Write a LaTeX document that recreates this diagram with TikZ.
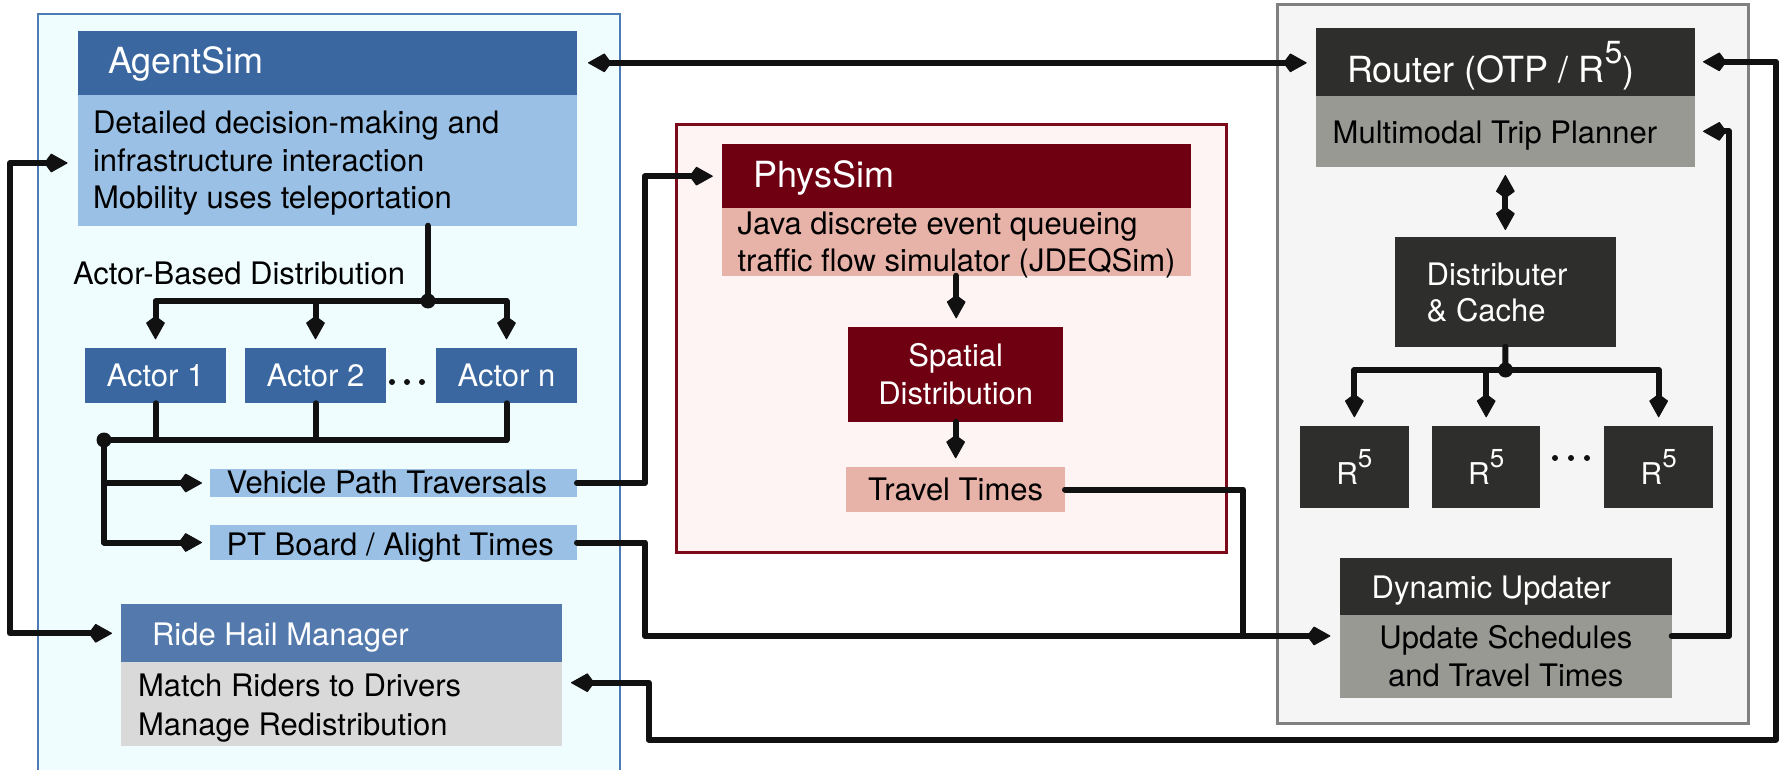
\documentclass[tikz,border=0pt]{standalone}
\usepackage{fontspec}
\setmainfont{TeX Gyre Heros}
\usetikzlibrary{arrows.meta}
\newcommand{\fBody}{\fontsize{31}{37.7}\selectfont}
\newcommand{\fHead}{\fontsize{36}{43}\selectfont}
\newcommand{\fRfive}{\fontsize{30}{36}\selectfont}
\newcommand{\rsupA}[1]{\raisebox{19pt}{\fontsize{32}{32}\selectfont #1}}
\newcommand{\rsupB}[1]{\raisebox{17pt}{\fontsize{26}{26}\selectfont #1}}
\definecolor{outerblue}{HTML}{EFFDFF}
\definecolor{outerblueline}{HTML}{4E7BB3}
\definecolor{agenthead}{HTML}{3A67A0}
\definecolor{agentbody}{HTML}{9AC1E5}
\definecolor{ridehead}{HTML}{547AAD}
\definecolor{ridebody}{HTML}{D9D9D9}
\definecolor{physouter}{HTML}{FFF4F4}
\definecolor{physline}{HTML}{7D0A1B}
\definecolor{physhead}{HTML}{6E0011}
\definecolor{physbody}{HTML}{E7B2A8}
\definecolor{greyouter}{HTML}{F5F5F5}
\definecolor{greyline}{HTML}{808080}
\definecolor{darkbox}{HTML}{2E2E2C}
\definecolor{greybody}{HTML}{999994}
\definecolor{lineblack}{HTML}{111111}
\begin{document}
\begin{tikzpicture}[x=1pt,y=-1pt,
  >={Kite[length=24pt,width=19pt,inset=7pt,line width=1pt,round]},
  blk/.style={anchor=north west, inner sep=0pt, outer sep=0pt},
  txt/.style={inner sep=0pt, outer sep=0pt, anchor=base west, font=\fBody, text=black},
  wtxt/.style={txt, text=white},
  conn/.style={draw=lineblack, line width=6pt, line join=round, line cap=round},
  jdot/.style={fill=lineblack}]
\useasboundingbox (0,0) rectangle (1781,770);
\clip (0,0) rectangle (1781,770);
\fill[white] (0,0) rectangle (1781,770);

% containers
\node[blk, draw=outerblueline, fill=outerblue, line width=2.5pt, minimum width=582pt, minimum height=800pt] (agentOuter) at (38,14) {};
\node[blk, draw=physline, fill=physouter, line width=2.5pt, minimum width=550pt, minimum height=428pt] (physOuter) at (676.4,124.5) {};
\node[blk, draw=greyline, fill=greyouter, line width=3pt, minimum width=471.2pt, minimum height=718.3pt] (routerOuter) at (1277.3,5) {};

% AgentSim side
\node[blk, fill=agenthead, minimum width=499.4pt, minimum height=64.3pt] (agentH) at (77.6,30.7) {};
\node[blk, fill=agentbody, minimum width=499.4pt, minimum height=130.7pt] (agentB) at (77.6,95) {};
\node[blk, fill=agenthead, minimum width=141pt, minimum height=55.6pt, text=white, font=\fBody] (a1) at (85,347.7) {Actor 1};
\node[blk, fill=agenthead, minimum width=141pt, minimum height=55.6pt, text=white, font=\fBody] (a2) at (245,347.7) {Actor 2};
\node[blk, fill=agenthead, minimum width=141pt, minimum height=55.6pt, text=white, font=\fBody] (an) at (436,347.7) {Actor n};
\node[blk, fill=agentbody, minimum width=367pt, minimum height=27.4pt] (vpt) at (210,469.3) {};
\node[blk, fill=agentbody, minimum width=367pt, minimum height=35pt] (pt) at (210,525) {};
\node[blk, fill=ridehead, minimum width=441.4pt, minimum height=58pt] (rideH) at (121,604.3) {};
\node[blk, fill=ridebody, minimum width=441.4pt, minimum height=83.4pt] (rideB) at (121,662.3) {};

% PhysSim side
\node[blk, fill=physhead, minimum width=468.8pt, minimum height=64.3pt] (physH) at (721.8,144) {};
\node[blk, fill=physbody, minimum width=468.8pt, minimum height=67.4pt] (physB) at (721.8,208.3) {};
\node[blk, fill=physhead, minimum width=214.7pt, minimum height=95pt] (spatial) at (848.3,326.7) {};
\node[blk, fill=physbody, minimum width=218.7pt, minimum height=45.6pt, font=\fBody] (tt) at (846.3,466.7) {Travel Times};

% Router side
\node[blk, fill=darkbox, minimum width=379.3pt, minimum height=68.3pt] (routerH) at (1315.7,27.7) {};
\node[blk, fill=greybody, minimum width=379.3pt, minimum height=70.7pt] (routerB) at (1315.7,96) {};
\node[blk, fill=darkbox, minimum width=220.7pt, minimum height=110pt] (dist) at (1395,236.7) {};
\node[blk, fill=darkbox, minimum width=108.7pt, minimum height=82pt, text=white, font=\fRfive] (r1) at (1300,425.7) {R\rsupB{5}};
\node[blk, fill=darkbox, minimum width=108.4pt, minimum height=82pt, text=white, font=\fRfive] (r2) at (1432,425.7) {R\rsupB{5}};
\node[blk, fill=darkbox, minimum width=108.7pt, minimum height=82pt, text=white, font=\fRfive] (r3) at (1604.3,425.7) {R\rsupB{5}};
\node[blk, fill=darkbox, minimum width=331.7pt, minimum height=57.3pt] (duH) at (1340,557.7) {};
\node[blk, fill=greybody, minimum width=331.7pt, minimum height=83.3pt] (duB) at (1340,615) {};

% texts
\node[wtxt, font=\fHead] (tAgent) at (108,74) {AgentSim};
\node[txt] (tAg1) at (93,134) {Detailed decision-making and};
\node[txt] (tAg2) at (93,171.7) {infrastructure interaction};
\node[txt] (tAg3) at (93,209) {Mobility uses teleportation};
\node[txt] (tABD) at (73,284.3) {Actor-Based Distribution};
\node[txt] (tVPT) at (226.5,493) {Vehicle Path Traversals};
\node[txt] (tPT) at (226.5,555) {PT Board / Alight Times};
\node[wtxt] (tRide) at (152,645) {Ride Hail Manager};
\node[txt] (tR1) at (138,696.7) {Match Riders to Drivers};
\node[txt] (tR2) at (138,735) {Manage Redistribution};
\node[wtxt, font=\fHead] (tPhys) at (753.4,187.3) {PhysSim};
\node[txt] (tP1) at (737.6,235) {Java discrete event queueing};
\node[txt] (tP2) at (737.6,271.7) {traffic flow simulator (JDEQSim)};
\node[wtxt, anchor=base] (tSp1) at (955.7,366.7) {Spatial};
\node[wtxt, anchor=base] (tSp2) at (955.7,404) {Distribution};
\node[wtxt, font=\fHead] (tRouter) at (1347,82.7) {Router (OTP / R\rsupA{5})};
\node[txt] (tMTP) at (1332.7,143.3) {Multimodal Trip Planner};
\node[wtxt] (tD1) at (1426.7,285) {Distributer};
\node[wtxt] (tD2) at (1426.7,321.7) {\& Cache};
\node[wtxt] (tDU) at (1371.7,598) {Dynamic Updater};
\node[txt, anchor=base] (tU1) at (1505.8,648.3) {Update Schedules};
\node[txt, anchor=base] (tU2) at (1505.8,686) {and Travel Times};

% ellipsis dots
\fill[lineblack] (392,382) circle (3) (407,382) circle (3) (422,382) circle (3);
\fill[lineblack] (1555,458) circle (3) (1571,458) circle (3) (1587,458) circle (3);

% coordinates
\coordinate (lx) at (10,163);
\coordinate (j1) at (428,301);
\coordinate (j2) at (104,440);
\coordinate (cx) at (645,0);
\coordinate (jt) at (1243,636);
\coordinate (j3) at (1505.5,370);
\coordinate (rx1) at (1729,0);
\coordinate (bx) at (648.6,739.5);
\coordinate (rx2) at (1776,739.5);

% connectors
\draw[conn,<->,shorten <=11pt,shorten >=9pt] (agentH.east) -- (agentH.east -| routerH.west);
\draw[conn,<->,shorten <=10pt,shorten >=9pt] (agentB.west |- lx) -- (lx) |- (rideH.west);
\draw[conn] (agentB.south -| j1) -- (j1);
\draw[conn,->,shorten >=8.4pt] (j1) -| (a1.north);
\draw[conn,->,shorten >=8.4pt] (j1) -| (a2.north);
\draw[conn,->,shorten >=8.4pt] (j1) -| (an.north);
\fill[jdot] (j1) circle (7.5);
\draw[conn] (a1.south) |- (j2);
\draw[conn] (a2.south) |- (j2);
\draw[conn] (an.south) |- (j2);
\fill[jdot] (j2) circle (7.5);
\draw[conn,->,shorten >=8pt] (j2) |- (vpt.west);
\draw[conn,->,shorten >=8pt] (j2) |- (pt.west);
\draw[conn,->,shorten >=9pt] (vpt.east) -- (vpt.east -| cx) |- (physH.west);
\draw[conn,->,shorten >=9.6pt] (pt.east) -- (pt.east -| cx) |- ([yshift=20.7pt]duB.west);
\draw[conn] (tt.east) -| (jt);
\draw[conn,->,shorten >=8.4pt] (physB.south) -- (physB.south |- spatial.north);
\draw[conn,->,shorten >=8.4pt] (spatial.south) -- (tt.north);
\draw[conn,<->,shorten <=8.3pt,shorten >=6.7pt] (routerB.south) -- (routerB.south |- dist.north);
\draw[conn] (dist.south) -- (j3);
\draw[conn,->,shorten >=8.4pt] (j3) -| (r1.north);
\draw[conn,->,shorten >=8.4pt] (j3) -| (r2.north);
\draw[conn,->,shorten >=8.4pt] (j3) -| (r3.north);
\fill[jdot] (j3) circle (7.5);
\draw[conn,->,shorten >=8pt] ([yshift=20.7pt]duB.east) -- ([yshift=20.7pt]duB.east -| rx1) |- (routerB.east);
\draw[conn,<->,shorten <=8.6pt,shorten >=8pt] ([yshift=21.3pt]rideB.east) -| (bx) -- (rx2) |- (routerH.east);
\end{tikzpicture}
\end{document}
